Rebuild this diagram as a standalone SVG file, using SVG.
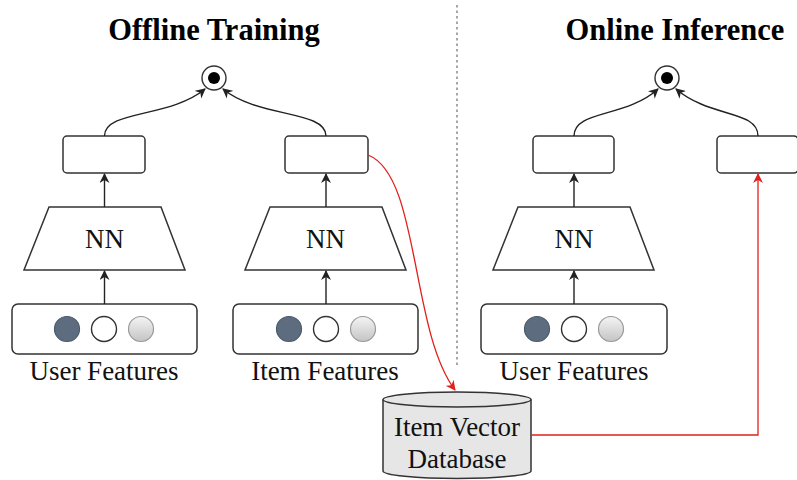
<svg xmlns="http://www.w3.org/2000/svg" width="797" height="480" viewBox="0 0 797 480">
  <style>
    .box { fill: #ffffff; stroke: #333333; stroke-width: 1.5; }
    .edge { fill: none; stroke: #222222; stroke-width: 1.4; }
    .red { fill: none; stroke: #e0201b; stroke-width: 1.3; }
    .title { font-family: "Liberation Serif", "Times New Roman", serif; font-weight: bold; font-size: 30.5px; fill: #000; text-anchor: middle; }
    .label { font-family: "Liberation Serif", "Times New Roman", serif; font-size: 27px; fill: #111; text-anchor: middle; }
    .nn { font-family: "Liberation Serif", "Times New Roman", serif; font-size: 27px; fill: #111; text-anchor: middle; }
    .dark { fill: #5d6d7f; stroke: #4b5a6b; stroke-width: 1.2; }
    .white { fill: #ffffff; stroke: #333333; stroke-width: 1.4; }
    .grey { fill: url(#greyGrad); stroke: #9a9a9a; stroke-width: 1.2; }
  </style>
  <defs>
    <linearGradient id="greyGrad" x1="0" y1="0" x2="0" y2="1">
      <stop offset="0" stop-color="#f4f4f4"/>
      <stop offset="1" stop-color="#c4c4c4"/>
    </linearGradient>
    <marker id="arrowBlack" viewBox="0 0 10 10" refX="9" refY="5" markerWidth="10" markerHeight="10" markerUnits="userSpaceOnUse" orient="auto">
      <path d="M0,0 L10,5 L0,10 L3,5 Z" fill="#222222"/>
    </marker>
    <marker id="arrowRed" viewBox="0 0 10 10" refX="9" refY="5" markerWidth="10" markerHeight="10" markerUnits="userSpaceOnUse" orient="auto">
      <path d="M0,0 L10,5 L0,10 L3,5 Z" fill="#e0201b"/>
    </marker>
  </defs>

  <rect width="797" height="480" fill="#ffffff"/>

  <!-- section titles -->
  <text class="title" x="214" y="40">Offline Training</text>
  <text class="title" x="675" y="40">Online Inference</text>

  <!-- divider -->
  <line x1="457" y1="5" x2="457" y2="368" stroke="#8a8a8a" stroke-width="1.5" stroke-dasharray="2.5,3"/>

  <!-- offline: user tower -->
  <g id="offline-dot">
    <circle cx="214" cy="78" r="12" class="white"/>
    <circle cx="214" cy="78" r="6" fill="#000"/>
  </g>
  <g id="offline-user-emb">
    <rect x="63" y="136" width="82" height="37" rx="4" class="box"/>
  </g>
  <g id="offline-user-nn">
    <polygon points="49,207 161,207 185,270 24,270" class="box"/>
    <text class="nn" x="104.5" y="248">NN</text>
  </g>
  <g id="offline-user-features">
    <rect x="12" y="304" width="185" height="50" rx="6" class="box"/>
    <circle cx="67" cy="329" r="12.5" class="dark"/>
    <circle cx="104" cy="329" r="12.5" class="white"/>
    <circle cx="141" cy="329" r="12.5" class="grey"/>
    <text class="label" x="104" y="380">User Features</text>
  </g>

  <!-- offline: item tower -->
  <g id="offline-item-emb">
    <rect x="285" y="136" width="83" height="37" rx="4" class="box"/>
  </g>
  <g id="offline-item-nn">
    <polygon points="270,207 382,207 406,270 245,270" class="box"/>
    <text class="nn" x="325.5" y="248">NN</text>
  </g>
  <g id="offline-item-features">
    <rect x="233" y="304" width="185" height="50" rx="6" class="box"/>
    <circle cx="289" cy="329" r="12.5" class="dark"/>
    <circle cx="326" cy="329" r="12.5" class="white"/>
    <circle cx="363" cy="329" r="12.5" class="grey"/>
    <text class="label" x="325" y="380">Item Features</text>
  </g>

  <!-- online: user tower -->
  <g id="online-dot">
    <circle cx="667" cy="78" r="12" class="white"/>
    <circle cx="667" cy="78" r="6" fill="#000"/>
  </g>
  <g id="online-user-emb">
    <rect x="533" y="136" width="81" height="37" rx="4" class="box"/>
  </g>
  <g id="online-user-nn">
    <polygon points="518,207 630,207 654,270 493,270" class="box"/>
    <text class="nn" x="574" y="248">NN</text>
  </g>
  <g id="online-user-features">
    <rect x="481" y="304" width="186" height="50" rx="6" class="box"/>
    <circle cx="537" cy="329" r="12.5" class="dark"/>
    <circle cx="574" cy="329" r="12.5" class="white"/>
    <circle cx="611" cy="329" r="12.5" class="grey"/>
    <text class="label" x="574" y="380">User Features</text>
  </g>
  <g id="online-item-emb">
    <rect x="717" y="136" width="81" height="37" rx="4" class="box"/>
  </g>

  <!-- item vector database -->
  <g id="item-vector-db">
    <path d="M383,399.5 L383,471 A74,7.5 0 0 0 531,471 L531,399.5" fill="#e6e6e6" stroke="#333333" stroke-width="1.5"/>
    <ellipse cx="457" cy="399.5" rx="74" ry="7.5" fill="#e6e6e6" stroke="#333333" stroke-width="1.5"/>
    <text class="label" x="457" y="436">Item Vector</text>
    <text class="label" x="457" y="468">Database</text>
  </g>

  <!-- connectors -->
  <g id="connectors">
    <path class="edge" d="M104.5,136 C104.5,110 170,118 205,89" marker-end="url(#arrowBlack)"/>
    <path class="edge" d="M326,136 C326,110 258,118 223,89" marker-end="url(#arrowBlack)"/>
    <path class="edge" d="M104.5,207 L104.5,174" marker-end="url(#arrowBlack)"/>
    <path class="edge" d="M104.5,304 L104.5,271" marker-end="url(#arrowBlack)"/>
    <path class="edge" d="M326,207 L326,174" marker-end="url(#arrowBlack)"/>
    <path class="edge" d="M326,304 L326,271" marker-end="url(#arrowBlack)"/>

    <path class="edge" d="M574,136 C574,110 626,118 658,89" marker-end="url(#arrowBlack)"/>
    <path class="edge" d="M758,136 C758,110 710,118 676,89" marker-end="url(#arrowBlack)"/>
    <path class="edge" d="M574,207 L574,174" marker-end="url(#arrowBlack)"/>
    <path class="edge" d="M574,304 L574,271" marker-end="url(#arrowBlack)"/>

    <path class="red" d="M368,155 C420,175 410,330 455,390" marker-end="url(#arrowRed)"/>
    <path class="red" d="M531,435 L758,435 L758,174" marker-end="url(#arrowRed)"/>
  </g>
</svg>
